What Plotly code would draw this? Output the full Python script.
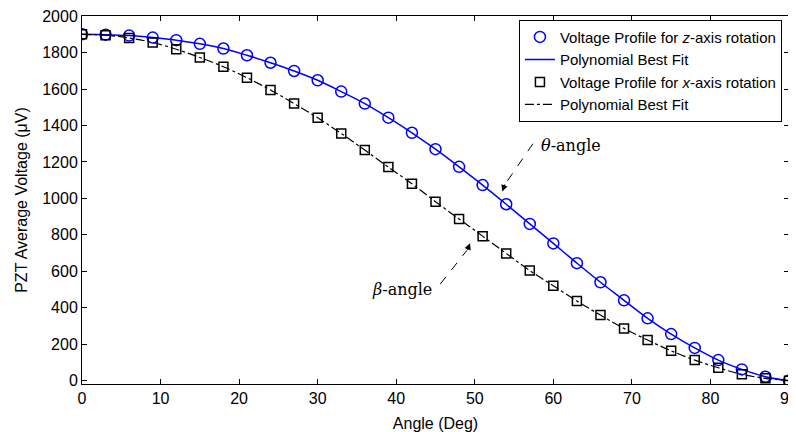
import plotly.graph_objects as go

angles = [0, 3, 6, 9, 12, 15, 18, 21, 24, 27, 30, 33, 36, 39, 42, 45, 48, 51, 54, 57, 60,
          63, 66, 69, 72, 75, 78, 81, 84, 87, 90]
z_rotation = [1900, 1898, 1893, 1882, 1868, 1848, 1822, 1785, 1744, 1699, 1648, 1586, 1520,
              1443, 1360, 1270, 1173, 1073, 968, 860, 753, 645, 540, 441, 342, 256, 180, 113,
              62, 22, 0]
x_rotation = [1900, 1895, 1880, 1855, 1818, 1773, 1722, 1662, 1595, 1520, 1442, 1356, 1265,
              1172, 1080, 982, 887, 793, 698, 604, 521, 437, 360, 287, 223, 164, 113, 71,
              35, 13, 0]
x_ticks = [0, 10, 20, 30, 40, 50, 60, 70, 80, 90]
y_ticks = [0, 200, 400, 600, 800, 1000, 1200, 1400, 1600, 1800, 2000]

BLUE = "#0000FF"
BLACK = "#000000"
SANS = "Liberation Sans, Arial, sans-serif"
SERIF = "DejaVu Serif, Liberation Serif, serif"

fig = go.Figure()
fig.add_trace(go.Scatter(x=angles, y=z_rotation, mode="lines", line=dict(color=BLUE, width=1.5, shape="spline"),
                         name="Polynomial Best Fit", legendrank=2))
fig.add_trace(go.Scatter(x=angles, y=x_rotation, mode="lines",
                         line=dict(color=BLACK, width=1.2, dash="dashdot", shape="spline"),
                         name="Polynomial Best Fit", legendrank=4))
fig.add_trace(go.Scatter(x=angles, y=z_rotation, mode="markers",
                         marker=dict(symbol="circle-open", size=11, color=BLUE, line=dict(width=1.5)),
                         name="Voltage Profile for <i>z</i>-axis rotation", legendrank=1))
fig.add_trace(go.Scatter(x=angles, y=x_rotation, mode="markers",
                         marker=dict(symbol="square-open", size=9, color=BLACK, line=dict(width=1.5)),
                         name="Voltage Profile for <i>x</i>-axis rotation", legendrank=3))

# dashed annotation leaders
fig.add_shape(type="line", x0=57.4, y0=1300, x1=53.9, y1=1080,
              line=dict(color=BLACK, width=1, dash="dash"))
fig.add_shape(type="line", x0=45.6, y0=530, x1=49.0, y1=715,
              line=dict(color=BLACK, width=1, dash="dash"))
fig.add_annotation(x=53.5, y=1038, ax=53.9, ay=1085, axref="x", ayref="y", text="",
                   showarrow=True, arrowhead=2, arrowsize=1.3, arrowwidth=1, arrowcolor=BLACK)
fig.add_annotation(x=49.4, y=754, ax=49.0, ay=710, axref="x", ayref="y", text="",
                   showarrow=True, arrowhead=2, arrowsize=1.3, arrowwidth=1, arrowcolor=BLACK)
fig.add_annotation(x=58.2, y=1290, text="<i>θ</i>-angle", showarrow=False, xanchor="left",
                   font=dict(family=SERIF, size=16, color=BLACK))
fig.add_annotation(x=44.8, y=500, text="<i>β</i>-angle", showarrow=False, xanchor="right",
                   font=dict(family=SERIF, size=16, color=BLACK))

axis_common = dict(showgrid=False, zeroline=False, showline=True, linecolor=BLACK, linewidth=1,
                   mirror="ticks", ticks="inside", ticklen=5, tickcolor=BLACK, automargin=False,
                   tickfont=dict(family=SANS, size=16, color=BLACK))

# page body adds an 8px offset; the plot box is placed to match the reference in the 796x432 window
fig.update_layout(
    width=788, height=424,
    margin=dict(l=74, r=7, t=8, b=48),
    paper_bgcolor="white", plot_bgcolor="white",
    font=dict(family=SANS, size=16, color=BLACK),
    xaxis=dict(range=[0, 90], tickvals=x_ticks, ticklabeloverflow="allow",
               title=dict(text="Angle (Deg)", standoff=13, font=dict(size=16)), **axis_common),
    yaxis=dict(range=[-18, 2000.5], tickvals=y_ticks, ticklabeloverflow="allow",
               title=dict(text="PZT Average Voltage (μV)", standoff=10, font=dict(size=16)), **axis_common),
    legend=dict(x=0.99, y=0.99, xanchor="right", yanchor="top", bordercolor=BLACK, borderwidth=1,
                bgcolor="white", font=dict(size=15), tracegroupgap=0, itemwidth=30),
    showlegend=True,
)

fig.write_html("out.html")
